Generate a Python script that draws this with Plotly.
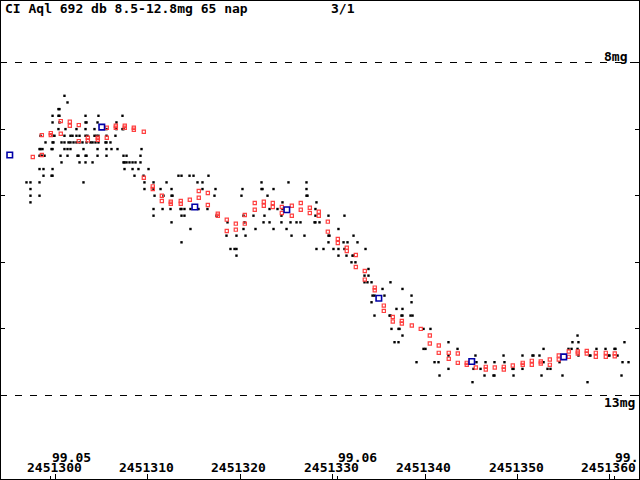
import plotly.graph_objects as go

# light curve of CI Aql, JD 2451295 .. 2451363
# all day values below are JD - 2451300
JD0 = 2451300

# visual estimates (black dots), one row per 0.1 mag step
black_row_mag = [8.5, 8.6, 8.7, 8.8, 8.9, 9.0, 9.1, 9.2, 9.3, 9.4, 9.5, 9.6, 9.7,
                 9.8, 9.9, 10.0, 10.1, 10.2, 10.3, 10.4, 10.5, 10.6, 10.7, 10.8,
                 10.9, 11.0, 11.1, 11.2, 11.3, 11.4, 11.5, 11.6, 11.7, 11.8,
                 12.0, 12.1, 12.2, 12.3, 12.4, 12.5, 12.6, 12.7, 12.8]
black_row_days = [
    [0.97],
    [1.30],
    [0.32, 0.43],
    [-0.32, 0.32, 0.43, 3.25, 4.65, 7.25],
    [-0.32, 0.43, 3.25, 3.36, 4.55, 6.60],
    [0.32, 1.08, 2.27, 3.25, 4.22, 5.52, 6.60, 7.25, 7.36],
    [-1.62, -0.32, -0.11, 0.97, 1.62, 1.84, 2.27, 2.60, 3.25, 3.46, 4.22, 4.44,
     4.65, 5.52, 6.49],
    [-1.08, -0.32, -0.22, 0.65, 0.97, 1.41, 1.62, 1.95, 2.27, 2.60, 2.92, 3.36,
     3.79, 4.01, 4.33, 4.65, 5.41, 5.52, 5.95],
    [-1.73, -1.62, -1.41, -0.43, -0.32, 0.97, 1.30, 1.62, 3.03, 4.55, 5.52, 6.06,
     6.71, 9.31],
    [-1.73, -1.62, -1.41, -1.19, 0.54, 1.30, 2.38, 2.49, 3.25, 3.36, 4.55, 5.52,
     7.36, 7.69, 9.20],
    [0.65, 2.60, 3.25, 4.01, 7.36, 7.47, 7.69, 8.01, 8.34, 8.66, 9.20],
    [-1.73, -1.30, -0.32, 7.47, 8.34, 8.98, 10.07],
    [-1.30, -0.43, -0.32, 8.55, 9.53, 13.31, 13.64, 14.51, 14.94, 16.56],
    [-3.14, -2.71, -1.73, 3.03, 9.63, 10.61, 12.02, 15.37, 15.91, 22.30, 25.22, 27.17],
    [-2.71, 9.63, 10.61, 11.37, 12.56, 15.91, 17.32, 20.24, 22.30, 22.41, 23.60, 27.17],
    [-2.71, -1.73, 10.72, 11.69, 12.56, 12.67, 17.21, 20.13, 22.95, 27.17, 27.28],
    [-2.71, 24.57, 28.25],
    [10.61, 11.59, 12.45, 13.53, 13.64, 13.96, 14.61, 15.48, 16.45, 23.17, 24.03,
     24.57, 28.14],
    [10.61, 13.64, 13.96, 17.43, 20.35, 21.43, 22.62, 24.46, 28.14, 29.55, 31.28],
    [12.56, 18.62, 20.46, 22.52, 23.17, 24.46, 25.44, 26.09, 26.52, 28.04, 28.14, 28.58],
    [14.61, 20.35, 21.65, 23.60, 25.01, 30.63],
    [18.51, 19.59, 20.57, 25.55, 26.95, 29.55, 29.66, 32.26],
    [13.64, 29.55, 31.18, 31.61, 32.69],
    [18.94, 19.38, 19.59, 28.25, 29.01, 30.09, 30.63, 31.28, 33.56],
    [19.59, 30.63, 31.50, 32.15, 32.26],
    [32.04, 32.47],
    [33.88],
    [33.45, 33.88],
    [33.45, 33.77, 34.21, 36.26],
    [35.40, 37.56],
    [34.32, 34.53, 35.61, 38.54],
    [34.21, 38.54],
    [36.91, 37.56],
    [34.53, 36.16, 36.26, 37.45, 37.56, 38.43, 38.65],
    [36.37, 37.13, 37.24, 39.84, 40.59],
    [37.56, 56.51],
    [36.70, 37.13, 42.54, 55.96, 56.61, 61.59],
    [39.84, 40.05, 43.52, 52.83, 55.53, 55.86, 56.51, 58.56, 59.54, 60.51, 60.62],
    [42.54, 45.46, 48.50, 50.55, 51.63, 51.74, 52.39, 56.61, 57.81, 57.91, 59.86,
     59.97, 60.84],
    [39.08, 41.03, 41.46, 45.57, 46.55, 47.52, 48.60, 52.83, 54.56, 61.38, 62.03],
    [42.54, 45.25, 46.01, 49.47, 49.58, 50.55, 53.26, 53.58],
    [41.57, 46.44, 47.41, 47.52, 49.58, 52.61, 54.88, 61.27],
    [45.14, 57.59],
]

# daily means (red)
red_day = [-2.46,
           -1.48, -1.48, -0.51, -0.51, 0.57, 0.57, 1.55, 1.55, 2.52, 2.52,
           3.50, 3.50, 4.58, 4.58, 5.55, 5.55, 6.53, 6.53, 7.50, 7.50,
           8.48, 8.48, 9.56, 9.56, 10.53, 10.53, 11.51, 11.51, 12.48, 12.48,
           13.56, 13.56, 14.54, 15.51, 15.51, 16.49, 16.49, 17.57, 17.57,
           18.54, 18.54, 19.52, 19.52, 20.49, 20.49, 21.57, 21.57, 22.55, 22.55,
           23.52, 23.52, 24.50, 24.50, 25.58, 25.58, 26.55, 26.55, 27.53, 27.53,
           28.50, 28.50, 29.48, 29.48, 30.56, 30.56, 31.53, 31.53, 32.51, 32.51,
           33.48, 33.48, 34.56, 34.56, 35.54, 35.54, 36.51, 36.51, 37.49, 37.49,
           38.57, 39.54, 40.52, 40.52, 41.49, 41.49, 42.57, 42.57, 43.55, 43.55,
           44.52, 44.52, 45.50, 46.58, 46.58, 47.55, 48.53, 48.53, 49.50,
           50.58, 50.58, 51.56, 51.56, 52.53, 52.53, 53.51, 53.51, 54.48, 54.48,
           55.56, 55.56, 56.54, 56.54, 57.51, 57.51, 58.49, 58.49, 59.57, 59.57,
           60.54, 60.54]
red_mag = [9.42,
           9.09, 9.39, 9.06, 9.09, 8.88, 9.07, 8.89, 8.95, 8.94, 9.18,
           9.13, 9.17, 9.13, 9.16, 8.98, 9.13, 8.95, 8.98, 8.95, 8.98,
           8.98, 9.01, 9.04, 9.73, 9.86, 9.90, 10.00, 10.08, 10.09, 10.12,
           10.08, 10.12, 10.06, 9.93, 10.03, 9.96, 10.14, 10.27, 10.30,
           10.36, 10.53, 10.42, 10.51, 10.29, 10.42, 10.11, 10.21, 10.09, 10.15,
           10.11, 10.17, 10.17, 10.26, 10.15, 10.30, 10.11, 10.21, 10.18, 10.26,
           10.24, 10.30, 10.39, 10.54, 10.65, 10.71, 10.78, 10.83, 10.89, 11.07,
           11.13, 11.26, 11.38, 11.42, 11.65, 11.73, 11.82, 11.89, 11.88, 11.92,
           11.95, 12.00, 12.10, 12.22, 12.25, 12.36, 12.36, 12.45, 12.37, 12.51,
           12.51, 12.54, 12.58, 12.57, 12.61, 12.58, 12.57, 12.61, 12.55,
           12.51, 12.54, 12.48, 12.54, 12.49, 12.52, 12.46, 12.54, 12.40, 12.46,
           12.34, 12.42, 12.34, 12.37, 12.33, 12.37, 12.36, 12.42, 12.36, 12.42,
           12.37, 12.41]

# 10-day means (blue)
blue_day = [-4.95, 5.01, 15.08, 25.04, 35.00, 45.06, 55.02]
blue_mag = [9.39, 8.97, 10.17, 10.21, 11.54, 12.49, 12.42]

jd_ticks = [2451300, 2451310, 2451320, 2451330, 2451340, 2451350, 2451360]
month_jd = [2451299.5, 2451330.5, 2451360.5]
month_labels = ["99.05", "99.06", "99."]
mag_ticks = [8, 9, 10, 11, 12, 13]
limit_mags = [8, 13]
limit_labels = ["8mg", "13mg"]

title_text = "CI Aql 692 db 8.5-12.8mg 65 nap"
page_text = "3/1"

W, H = 640, 480
# ranges put the 1px lines on pixel centres so they stay sharp
X_RANGE = [2451293.992, 2451363.272]
Y_RANGE = [14.2688, 7.0616]
FONT = dict(family="DejaVu Sans Mono", size=13, color="black")


def px(x):
    return x / W


def py(y):
    return 1 - y / H


black_x, black_y = [], []
for m, days in zip(black_row_mag, black_row_days):
    for d in days:
        black_x.append(JD0 + d)
        black_y.append(m)

fig = go.Figure()

fig.add_trace(go.Scatter(
    x=black_x, y=black_y, mode="markers",
    marker=dict(symbol="square", size=2.4, color="black", line_width=0),
))
fig.add_trace(go.Scatter(
    x=[JD0 + d for d in red_day], y=red_mag, mode="markers",
    marker=dict(symbol="square-open", size=3.2, color="#FF4040",
                line=dict(width=1.2, color="#FF4040")),
))
fig.add_trace(go.Scatter(
    x=[JD0 + d for d in blue_day], y=blue_mag, mode="markers",
    marker=dict(symbol="square-open", size=5.5, color="#0000A8",
                line=dict(width=1.6, color="#0000A8")),
))

shapes = [dict(type="rect", xref="paper", yref="paper", x0=0, x1=1, y0=0, y1=1,
               line=dict(color="black", width=2))]
for m in limit_mags:
    shapes.append(dict(type="line", xref="paper", yref="y", x0=0, x1=1, y0=m, y1=m,
                       line=dict(color="black", width=1, dash="7px,8px")))

ann = []
ann.append(dict(text="<b>%s</b>" % title_text, x=px(4), y=py(8),
                xanchor="left", yanchor="middle"))
ann.append(dict(text="<b>%s</b>" % page_text, x=px(330), y=py(8),
                xanchor="left", yanchor="middle"))
ann.append(dict(text="<b>%s</b>" % limit_labels[0], x=px(603), y=py(56),
                xanchor="left", yanchor="middle"))
ann.append(dict(text="<b>%s</b>" % limit_labels[1], x=px(603), y=py(402),
                xanchor="left", yanchor="middle"))
for jd in jd_ticks:
    ann.append(dict(text="<b>%d</b>" % jd, x=jd - 0.15, xref="x", y=py(467.5),
                    xanchor="center", yanchor="middle"))
for jd, lab in zip(month_jd, month_labels):
    ann.append(dict(text="<b>%s</b>" % lab, x=jd, xref="x", y=py(457),
                    xanchor="left", yanchor="middle"))
for a in ann:
    a.setdefault("xref", "paper")
    a["yref"] = "paper"
    a["showarrow"] = False
    a["font"] = FONT
    a["borderpad"] = 0

fig.update_layout(
    width=W, height=H,
    margin=dict(l=0, r=0, t=0, b=0),
    paper_bgcolor="white",
    plot_bgcolor="white",
    showlegend=False,
    shapes=shapes,
    annotations=ann,
    xaxis=dict(
        range=X_RANGE, showgrid=False, zeroline=False, showticklabels=False,
        tickmode="array", tickvals=jd_ticks, ticks="inside", ticklen=6,
        tickwidth=1, tickcolor="black",
        minor=dict(tickmode="array", tickvals=month_jd, ticks="inside",
                   ticklen=4, tickwidth=1, tickcolor="black"),
    ),
    yaxis=dict(
        range=Y_RANGE, showgrid=False, zeroline=False, showticklabels=False,
        tickmode="array", tickvals=mag_ticks, ticks="inside", ticklen=5,
        tickwidth=1, tickcolor="black", mirror="ticks",
    ),
)

fig.write_html("out.html", config={"displayModeBar": False},
               post_script="document.body.style.margin='0';")
